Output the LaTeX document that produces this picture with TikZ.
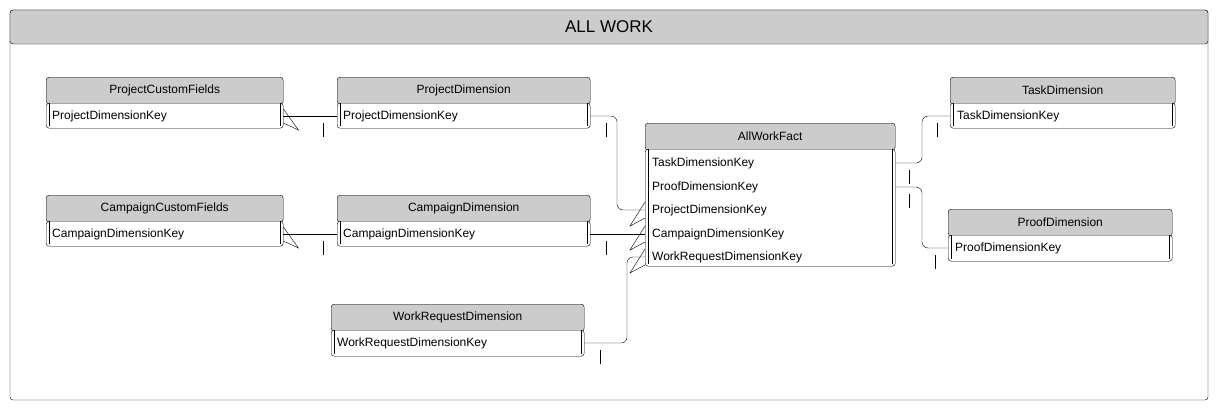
\documentclass[tikz,border=0pt]{standalone}
\usepackage{fontspec}
\setmainfont{Liberation Sans}
\usetikzlibrary{positioning}
\tikzset{
  head/.style={draw, fill=gray!40, rounded corners=3pt, anchor=north west, inner sep=0pt},
  body/.style={draw, fill=white, rounded corners=3pt, anchor=north west, inner sep=0pt},
  row/.style={anchor=west, inner sep=0pt, font=\fontsize{12}{14}\selectfont},
  ttl/.style={font=\fontsize{12}{14}\selectfont},
  link/.style={thin, rounded corners=6pt}
}
% entity: name, x, y, width, body height, title
\newcommand{\entbox}[6]{
  \node[head, minimum width=#4pt, minimum height=27pt] (#1) at (#2,#3) {};
  \node[body, minimum width=#4pt, minimum height=#5pt] (#1-b) at (#2,#3+26) {};
  \draw ([xshift=3pt]#1-b.north west) -- ([xshift=3pt,yshift=2pt]#1-b.south west);
  \draw ([xshift=-3pt]#1-b.north east) -- ([xshift=-3pt,yshift=2pt]#1-b.south east);
  \node[ttl] at (#1.center) {#6};
}
\begin{document}
\begin{tikzpicture}[x=1pt,y=-1pt]
  \useasboundingbox (0,0) rectangle (1217,410);
  % frame
  \draw[rounded corners=3pt] (10,10) rectangle (1208,400);
  \draw[fill=gray!40, rounded corners=3pt] (10,10) rectangle (1208,44);
  \node[font=\fontsize{17}{20}\selectfont] (title) at (609,27) {ALL WORK};

  \entbox{pcf}{46}{77}{237}{25}{ProjectCustomFields}
  \entbox{pd}{337}{77}{253}{25}{ProjectDimension}
  \entbox{ccf}{46}{195}{237}{25}{CampaignCustomFields}
  \entbox{cd}{337}{195}{253}{25}{CampaignDimension}
  \entbox{wrd}{331}{304}{253}{26}{WorkRequestDimension}
  \entbox{awf}{645}{123}{250}{117}{AllWorkFact}
  \entbox{td}{950}{77}{225}{25}{TaskDimension}
  \entbox{prd}{948}{209}{224}{26}{ProofDimension}

  \node[row] (pcf-r1) at (52,116) {ProjectDimensionKey};
  \node[row] (pd-r1) at (343,116) {ProjectDimensionKey};
  \node[row] (ccf-r1) at (52,234) {CampaignDimensionKey};
  \node[row] (cd-r1) at (343,234) {CampaignDimensionKey};
  \node[row] (wrd-r1) at (337,343) {WorkRequestDimensionKey};
  \node[row] (td-r1) at (957,116) {TaskDimensionKey};
  \node[row] (prd-r1) at (955,248) {ProofDimensionKey};
  \node[row] (awf-r1) at (652,163) {TaskDimensionKey};
  \node[row] (awf-r2) at (652,187) {ProofDimensionKey};
  \node[row] (awf-r3) at (652,210) {ProjectDimensionKey};
  \node[row] (awf-r4) at (652,234) {CampaignDimensionKey};
  \node[row] (awf-r5) at (652,257) {WorkRequestDimensionKey};

  % connectors
  \coordinate (c1) at (pcf-b.east |- pcf-r1);
  \coordinate (c2) at (pd-b.west |- pd-r1);
  \draw (c1) -- (c2);
  \draw ([yshift=-7pt]c1) -- ++(15,7) -- ([yshift=7pt]c1);
  \draw ([xshift=-14pt,yshift=-7pt]c2) -- ++(0,14);

  \coordinate (c3) at (ccf-b.east |- ccf-r1);
  \coordinate (c4) at (cd-b.west |- cd-r1);
  \draw (c3) -- (c4);
  \draw ([yshift=-7pt]c3) -- ++(15,7) -- ([yshift=7pt]c3);
  \draw ([xshift=-14pt,yshift=-7pt]c4) -- ++(0,14);

  \coordinate (f3) at (awf-b.west |- awf-r3);
  \coordinate (f4) at (awf-b.west |- awf-r4);
  \coordinate (f5) at (awf-b.west |- awf-r5);
  \coordinate (p1) at (pd-b.east |- pd-r1);
  \coordinate (p2) at (cd-b.east |- cd-r1);
  \coordinate (p3) at (wrd-b.east |- wrd-r1);
  \draw[link] (p1) -- (617,116) -- (617,210) -- (f3);
  \draw (p2) -- (f4);
  \draw[link] (p3) -- (627,343) -- (627,257) -- (f5);
  \foreach \f in {f3,f4,f5}
    \draw ([yshift=-8pt]\f) -- ++(-15,8) -- ([yshift=8pt]\f);
  \foreach \p in {p1,p2,p3}
    \draw ([xshift=16pt,yshift=-7pt]\p) -- ++(0,14);

  \coordinate (q1) at (awf-b.east |- awf-r1);
  \coordinate (q2) at (awf-b.east |- awf-r2);
  \coordinate (t1) at (td-b.west |- td-r1);
  \coordinate (t2) at (prd-b.west |- prd-r1);
  \draw[link] (q1) -- (922,163) -- (922,116) -- (t1);
  \draw[link] (q2) -- (922,187) -- (922,248) -- (t2);
  \foreach \q in {q1,q2}
    \draw ([xshift=14pt,yshift=-7pt]\q) -- ++(0,14);
  \foreach \t in {t1,t2}
    \draw ([xshift=-13pt,yshift=-7pt]\t) -- ++(0,14);
\end{tikzpicture}
\end{document}
